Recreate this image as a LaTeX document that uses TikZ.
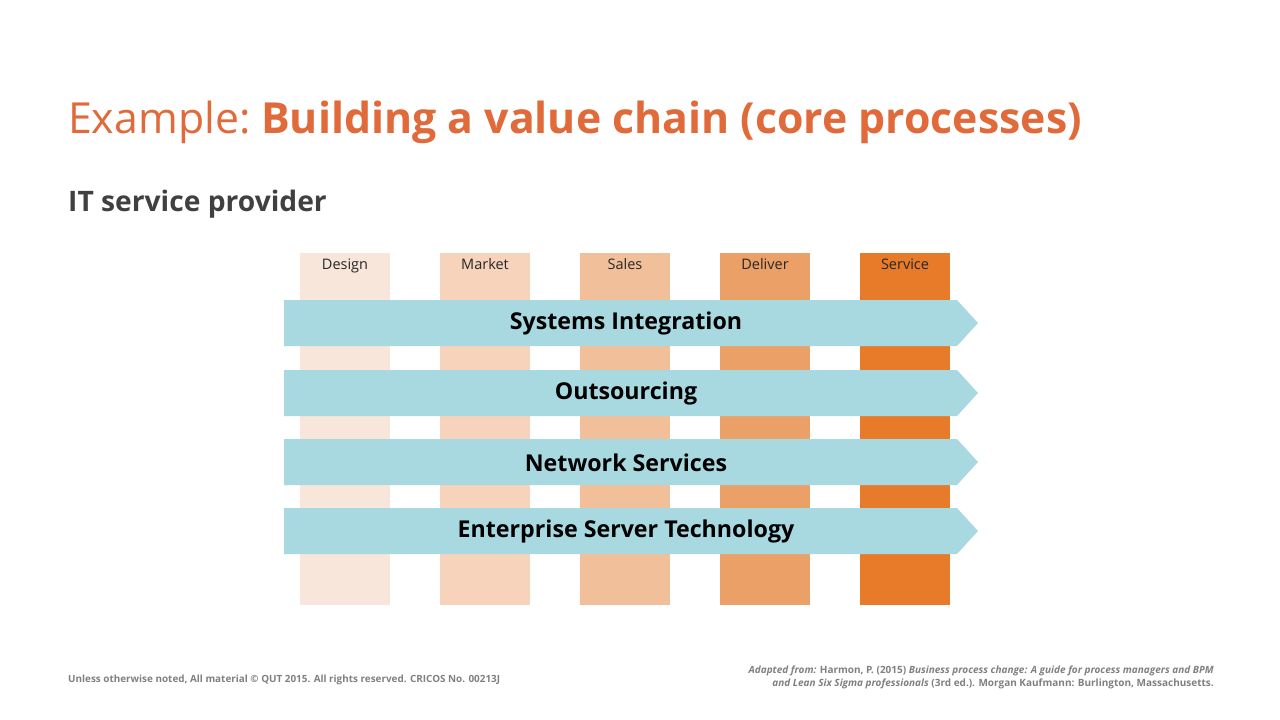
\documentclass[tikz,border=0pt]{standalone}
\usepackage{fontspec}
\setmainfont{Open Sans}
\definecolor{c1}{HTML}{F8E6DA}
\definecolor{c2}{HTML}{F7D3BC}
\definecolor{c3}{HTML}{F2BF9B}
\definecolor{c4}{HTML}{EBA067}
\definecolor{c5}{HTML}{E77B2A}
\definecolor{arr}{HTML}{A8D8E0}
\definecolor{ttl}{HTML}{E06A3A}
\definecolor{dk}{HTML}{404040}
\begin{document}
\begin{tikzpicture}[x=1pt,y=-1pt,
 col/.style={fill=#1,draw=none},
 lab/.style={font=\fontsize{14.5}{16}\selectfont,text=black!85,anchor=base},
 atext/.style={font=\bfseries\fontsize{23.2}{26}\selectfont,text=black}]
\useasboundingbox (0,0) rectangle (1280,720);
\node[anchor=base west,text=ttl,font=\fontsize{42.8}{50}\selectfont,inner sep=0] (title) at (68,133) {Example:\hspace{0.25em}\textbf{Building a value chain (core processes)}};
\node[anchor=base west,text=dk,font=\bfseries\fontsize{28.2}{30}\selectfont,inner sep=0] (sub) at (68,211) {IT service provider};
\foreach \x/\c/\t [count=\i] in {300/c1/Design,440/c2/Market,580/c3/Sales,720/c4/Deliver,860/c5/Service}{
  \fill[col=\c] (\x,253) rectangle ++(90,352);
  \node[lab] (col\i) at (\x+45,269) {\t};
}
\foreach \y/\t [count=\i] in {300/Systems Integration,370/Outsourcing,439/Network Services,508/Enterprise Server Technology}{
  \fill[arr] (284,\y) -- (957,\y) -- (978,\y+23) -- (957,\y+46) -- (284,\y+46) -- cycle;
  \node[atext] (a\i) at (626,\y+23.5) {\t};
}
\node[anchor=base west,text=gray,font=\bfseries\fontsize{9.9}{11}\selectfont,inner sep=0] (foot) at (68,682) {Unless otherwise noted, All material © QUT 2015. All rights reserved. CRICOS No. 00213J};
\node[anchor=north east,align=right,text=gray,font=\bfseries\fontsize{10}{13}\selectfont,inner sep=0] (ref) at (1214,666) {\textit{Adapted from:} Harmon, P. (2015) \textit{Business process change: A guide for process managers and BPM}\\\textit{and Lean Six Sigma professionals} (3rd ed.). Morgan Kaufmann: Burlington, Massachusetts.};
\end{tikzpicture}
\end{document}
